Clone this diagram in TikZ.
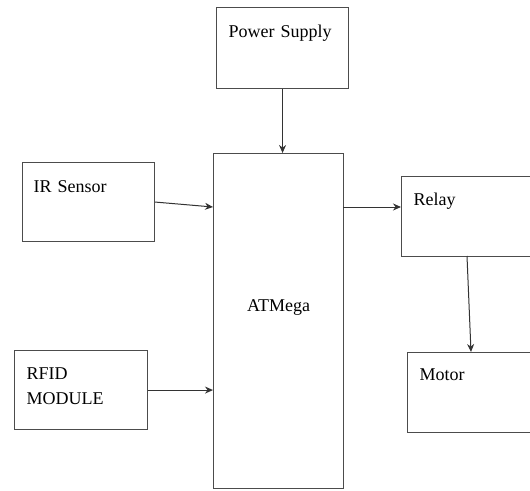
\documentclass[tikz,border=0pt]{standalone}
\usepackage{fontspec}
\setmainfont{Liberation Serif}
\usepackage{tikz}
\usetikzlibrary{arrows.meta, positioning, calc}

\begin{document}
\begin{tikzpicture}[
    x=1pt, y=-1pt,
    blk/.style={draw=black!70, line width=1.1pt, rectangle, anchor=north west, align=left, inner ysep=0pt, inner xsep=12pt, font=\rmfamily\fontsize{18}{25}\selectfont},
    arrow/.style={line width=1pt, draw=black!80, ->, >={Stealth[length=8pt, width=7pt]}}
]
\useasboundingbox (0,0) rectangle (530,490);
\clip (0,0) rectangle (530,490);

% Supply and controller
\node[blk, text width=108pt, text height=30pt, text depth=51pt] (psu) at (216,7) {Power Supply};
\node[blk, align=center, inner xsep=0pt, text width=130pt, text height=158pt, text depth=177pt] (atm) at (213,153) {ATMega};

% Inputs
\node[blk, inner xsep=11pt, text width=110pt, text height=30pt, text depth=49pt] (ir) at (22,162) {IR Sensor};
\node[blk, text width=109pt, text height=29pt, text depth=50pt] (rfid) at (14,350) {RFID\\MODULE};

% Outputs
\node[blk, text width=140pt, text height=29pt, text depth=51pt] (relay) at (401,176) {Relay};
\node[blk, text width=140pt, text height=28pt, text depth=52pt] (motor) at (407,352) {Motor};

\coordinate (atmIR) at (213,207);
\coordinate (atmOut) at (343,207);
\coordinate (rlyDn) at (467,256);

\draw[arrow] (psu.south) -- (psu.south |- atm.north);
\draw[arrow] (ir.east) -- (atmIR);
\draw[arrow] (rfid.east) -- (rfid.east -| atm.west);
\draw[arrow] (atmOut) -- (atmOut -| relay.west);
\draw[arrow] (rlyDn) -- ($(motor.north west)+(64,0)$);
\end{tikzpicture}
\end{document}
